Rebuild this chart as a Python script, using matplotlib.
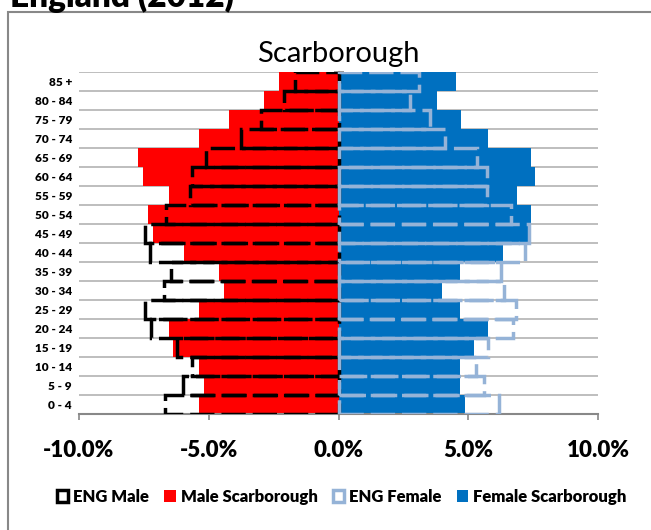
import numpy as np
import matplotlib.pyplot as plt
from matplotlib.patches import Patch, Rectangle

plt.rcParams['font.family'] = ['Lato', 'DejaVu Sans']
plt.rcParams['font.weight'] = 'heavy'

# age bands, bottom to top
ages = ['0 - 4', '5 - 9', '10 - 14', '15 - 19', '20 - 24', '25 - 29', '30 - 34',
        '35 - 39', '40 - 44', '45 - 49', '50 - 54', '55 - 59', '60 - 64',
        '65 - 69', '70 - 74', '75 - 79', '80 - 84', '85 +']

# percent of each sex (male shown as negative)
male_scar = [-5.39, -5.19, -5.39, -6.36, -6.55, -5.39, -4.42, -4.61, -5.97,
             -7.13, -7.33, -6.55, -7.52, -7.71, -5.39, -4.22, -2.88, -2.29]
eng_male = [-6.70, -5.99, -5.66, -6.23, -7.24, -7.46, -6.74, -6.45, -7.27,
            -7.46, -6.65, -5.72, -5.64, -5.11, -3.74, -3.00, -2.11, -1.69]
female_scar = [4.88, 4.68, 4.68, 5.22, 5.78, 4.68, 3.97, 4.68, 6.32,
               7.42, 7.42, 6.87, 7.59, 7.42, 5.78, 4.71, 3.81, 4.52]
eng_female = [6.20, 5.60, 5.29, 5.76, 6.72, 6.84, 6.38, 6.26, 7.20,
              7.35, 6.65, 5.74, 5.74, 5.32, 4.10, 3.51, 2.77, 3.12]

xticks = [-10, -5, 0, 5, 10]
xticklabels = ['-10.0%', '-5.0%', '0.0%', '5.0%', '10.0%']

red = '#FF0000'
blue = '#0070C0'
light_blue = '#95B3D7'
grid_col = '#B3B3B3'
dash = (0, (7, 2))

fig = plt.figure(figsize=(6.51, 5.30), dpi=100)
ax = fig.add_axes([79/651, 1 - 414/530, 519/651, 342/530])

y = np.arange(len(ages))
ax.barh(y, male_scar, height=1.0, color=red, zorder=2)
ax.barh(y, female_scar, height=1.0, color=blue, zorder=2)
ax.barh(y, eng_male, height=1.0, facecolor='none', edgecolor='black',
        linewidth=2.5, linestyle=dash, zorder=3)
ax.barh(y, eng_female, height=1.0, facecolor='none', edgecolor=light_blue,
        linewidth=2.5, linestyle=dash, zorder=3)

ax.set_xlim(-10, 10)
ax.set_ylim(-0.5, len(ages) - 0.5)
ax.set_xticks(xticks, xticklabels, fontsize=16)
ax.set_yticks(y, ages, fontsize=8.5)
ax.set_yticks(np.arange(-0.5, len(ages)), minor=True)
ax.grid(axis='y', which='minor', color=grid_col, linewidth=1.2, zorder=0)
ax.set_axisbelow(True)

ax.tick_params(axis='y', which='both', length=0, pad=5)
ax.tick_params(axis='x', length=4, color='#888888', width=1.2, pad=15)

for s in ['top', 'right', 'left']:
    ax.spines[s].set_visible(False)
ax.spines['bottom'].set_color('#888888')
ax.spines['bottom'].set_linewidth(1.5)

# category axis drawn at zero
zero_ax = ax.secondary_yaxis(0.5)
zero_ax.set_yticks(np.arange(-0.5, len(ages)))
zero_ax.tick_params(direction='inout', length=7, color='#888888', width=1.2,
                    labelleft=False, labelright=False)
for sp in zero_ax.spines.values():
    sp.set_color('#888888')
    sp.set_linewidth(1.5)

ax.set_title('Scarborough', fontsize=21, fontweight='normal', pad=7)

handles = [Patch(facecolor='none', edgecolor='black', linewidth=2.5),
           Patch(facecolor=red),
           Patch(facecolor='none', edgecolor=light_blue, linewidth=2.5),
           Patch(facecolor=blue)]
labels = ['ENG Male', 'Male Scarborough', 'ENG Female', 'Female Scarborough']
fig.legend(handles, labels, loc='center', bbox_to_anchor=(0.525, 1 - 497/530),
           ncol=4, frameon=False, prop={'weight': 'heavy', 'size': 12},
           handlelength=0.7, handleheight=0.7, handletextpad=0.3, columnspacing=0.9)

# chart frame and heading cut off by the crop
fig.add_artist(Rectangle((8/651, -0.1), 1.0, 1.1 - 12/530, transform=fig.transFigure,
                         facecolor='none', edgecolor='#888888', linewidth=1.5))
fig.text(10/651, 1 - 7/530, 'England (2012)', fontsize=24, fontweight='heavy',
         ha='left', va='baseline')

plt.savefig('out.png', dpi=100)
